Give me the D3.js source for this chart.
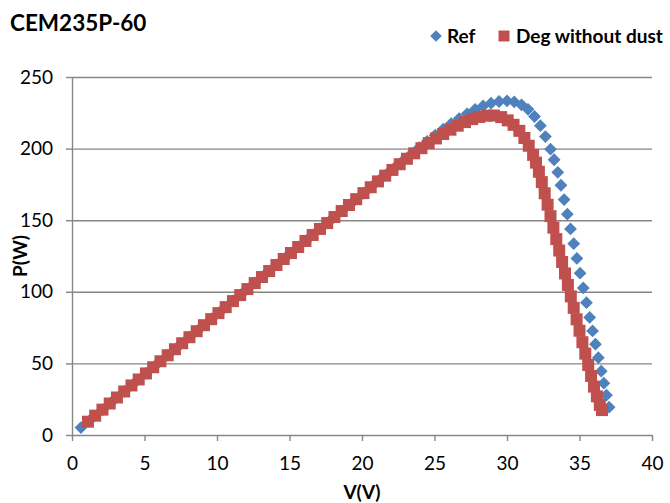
<!DOCTYPE html>
<html>
<head>
<meta charset="utf-8">
<script src="https://cdn.jsdelivr.net/npm/d3@7"></script>
<style>
  body { margin: 0; background: #fff; }
  svg { display: block; }
  text { font-family: Lato, "Open Sans", sans-serif; fill: #000; }
</style>
</head>
<body>
<svg id="chart" width="670" height="503"></svg>
<script>
// P-V curve of a CEM235P-60 module: reference vs. degraded (no dust)
const refV = [0.62, 1.35, 2.10, 2.85, 3.60, 4.35, 5.10, 5.85, 6.60, 7.35, 8.10, 8.85, 9.60, 10.35, 11.10, 11.85, 12.60, 13.35, 14.10, 14.85, 15.60, 16.35, 17.10, 17.85, 18.60, 19.35, 20.10, 20.65, 21.20, 21.75, 22.30, 22.85, 23.40, 23.95, 24.50, 25.05, 25.60, 26.15, 26.70, 27.25, 27.80, 28.35, 28.90, 29.45, 30.00, 30.50, 31.00, 31.45, 31.90, 32.30, 32.65, 33.00, 33.25, 33.50, 33.72, 33.94, 34.16, 34.38, 34.60, 34.82, 35.04, 35.26, 35.48, 35.70, 35.90, 36.10, 36.30, 36.50, 36.68, 36.86, 37.04];
const refP = [5.2, 11.4, 17.7, 24.1, 30.4, 36.7, 43.1, 49.4, 55.7, 62.0, 68.4, 74.7, 81.0, 87.3, 93.6, 99.9, 106.2, 112.5, 118.8, 125.1, 131.4, 137.6, 143.9, 150.1, 156.3, 162.5, 168.7, 173.3, 177.9, 182.5, 187.1, 191.7, 196.2, 200.7, 205.1, 209.4, 213.5, 217.4, 221.0, 224.3, 227.3, 229.8, 231.7, 232.9, 233.3, 232.6, 230.6, 227.4, 222.4, 216.0, 208.4, 199.6, 192.2, 183.4, 174.4, 164.4, 154.2, 143.9, 133.6, 123.3, 113.0, 102.7, 92.4, 82.1, 72.7, 63.4, 54.0, 44.6, 36.2, 27.8, 19.4];

const degV = [1.10, 1.60, 2.10, 2.60, 3.10, 3.60, 4.10, 4.60, 5.10, 5.60, 6.10, 6.60, 7.10, 7.60, 8.10, 8.60, 9.10, 9.60, 10.10, 10.60, 11.10, 11.60, 12.10, 12.60, 13.10, 13.60, 14.10, 14.60, 15.10, 15.60, 16.10, 16.60, 17.10, 17.60, 18.10, 18.60, 19.10, 19.60, 20.10, 20.60, 21.10, 21.60, 22.10, 22.60, 23.10, 23.60, 24.10, 24.60, 25.10, 25.60, 26.10, 26.60, 27.10, 27.60, 28.10, 28.60, 29.10, 29.60, 30.05, 30.45, 30.85, 31.20, 31.50, 31.80, 32.00, 32.20, 32.40, 32.60, 32.80, 33.00, 33.20, 33.40, 33.60, 33.80, 34.00, 34.20, 34.40, 34.60, 34.80, 35.00, 35.20, 35.40, 35.60, 35.80, 36.00, 36.20, 36.40, 36.55];
const degP = [9.3, 13.5, 17.7, 22.0, 26.2, 30.4, 34.6, 38.8, 43.0, 47.3, 51.5, 55.7, 59.9, 64.1, 68.3, 72.5, 76.7, 80.9, 85.1, 89.3, 93.5, 97.7, 101.9, 106.1, 110.3, 114.5, 118.7, 122.9, 127.1, 131.3, 135.5, 139.7, 143.9, 148.0, 152.2, 156.4, 160.6, 164.7, 168.9, 173.0, 177.1, 181.1, 185.1, 189.1, 192.9, 196.7, 200.3, 203.8, 207.1, 210.2, 213.2, 216.0, 218.5, 220.6, 222.1, 223.0, 223.1, 222.0, 219.7, 216.6, 212.4, 207.4, 202.0, 195.6, 190.2, 183.8, 176.6, 168.8, 160.8, 152.8, 144.8, 136.8, 128.8, 120.8, 112.8, 104.8, 96.8, 88.8, 80.8, 72.8, 64.8, 56.8, 48.9, 41.2, 33.8, 27.0, 21.0, 17.4];

const xTicks = [0, 5, 10, 15, 20, 25, 30, 35, 40];
const yTicks = [0, 50, 100, 150, 200, 250];

const seriesNames = ["Ref", "Deg without dust"];
const seriesColors = ["#4F81BD", "#C0504D"];
const chartTitle = "CEM235P-60";
const xTitle = "V(V)";
const yTitle = "P(W)";

const series = [
  { name: seriesNames[0], color: seriesColors[0], shape: "diamond",
    points: refV.map((v, i) => ({ v, p: refP[i] })) },
  { name: seriesNames[1], color: seriesColors[1], shape: "square",
    points: degV.map((v, i) => ({ v, p: degP[i] })) }
];

const svg = d3.select("#chart");
const plot = { left: 72, right: 652, top: 77, bottom: 435 };
const x = d3.scaleLinear().domain([0, 40]).range([plot.left, plot.right]);
const y = d3.scaleLinear().domain([0, 250]).range([plot.bottom, plot.top]);

const axisColor = "#868686";

// horizontal gridlines
svg.append("g")
  .attr("transform", `translate(${plot.left},0)`)
  .call(d3.axisLeft(y).tickValues(yTicks.filter(t => t > 0))
    .tickSize(-(plot.right - plot.left)).tickFormat(""))
  .call(g => g.select(".domain").remove())
  .call(g => g.selectAll("line").attr("stroke", axisColor).attr("stroke-width", 1.4));

// y axis
const yAxis = svg.append("g")
  .attr("transform", `translate(${plot.left},0)`)
  .call(d3.axisLeft(y).tickValues(yTicks).tickSize(6).tickSizeOuter(0).tickPadding(13));
yAxis.select(".domain").attr("stroke", axisColor).attr("stroke-width", 1.4);
yAxis.selectAll("line").attr("stroke", axisColor).attr("stroke-width", 1.4);
yAxis.selectAll("text").attr("font-size", 19).attr("font-family", "Lato, sans-serif").attr("fill", "#000");

// x axis
const xAxis = svg.append("g")
  .attr("transform", `translate(0,${plot.bottom})`)
  .call(d3.axisBottom(x).tickValues(xTicks).tickSize(6).tickSizeOuter(0));
xAxis.select(".domain").attr("stroke", axisColor).attr("stroke-width", 1.4);
xAxis.selectAll("line").attr("stroke", axisColor).attr("stroke-width", 1.4);
xAxis.selectAll("text").attr("font-size", 19).attr("font-family", "Lato, sans-serif")
  .attr("fill", "#000").attr("dy", null).attr("y", 35);

// markers
const diamond = r => `M0,${-r}L${r},0L0,${r}L${-r},0Z`;
const square = s => `M${-s/2},${-s/2}h${s}v${s}h${-s}Z`;
const markerPath = shape => shape === "diamond" ? diamond(6.4) : square(12);

series.forEach(s => {
  svg.append("g")
    .selectAll("path")
    .data(s.points)
    .join("path")
    .attr("d", markerPath(s.shape))
    .attr("transform", d => `translate(${x(d.v)},${y(d.p)})`)
    .attr("fill", s.color);
});

// title
svg.append("text")
  .attr("x", 10).attr("y", 31)
  .attr("font-size", 22.5).attr("font-weight", 700)
  .text(chartTitle);

// legend
const legend = svg.append("g");
const legendItems = [
  { x: 436, textX: 447 },
  { x: 504, textX: 516 }
];
const legendMarker = shape => shape === "diamond" ? diamond(5.8) : square(11);
series.forEach((s, i) => {
  legend.append("path")
    .attr("d", legendMarker(s.shape))
    .attr("transform", `translate(${legendItems[i].x},36)`)
    .attr("fill", s.color);
  legend.append("text")
    .attr("x", legendItems[i].textX).attr("y", 43)
    .attr("font-size", 19).attr("font-weight", 700)
    .text(s.name);
});

// axis titles
svg.append("text")
  .attr("x", (plot.left + plot.right) / 2).attr("y", 499)
  .attr("text-anchor", "middle")
  .attr("font-size", 19).attr("font-weight", 700)
  .text(xTitle);

svg.append("text")
  .attr("transform", `translate(27,${(plot.top + plot.bottom) / 2}) rotate(-90)`)
  .attr("text-anchor", "middle")
  .attr("font-size", 19).attr("font-weight", 700)
  .text(yTitle);
</script>
</body>
</html>
